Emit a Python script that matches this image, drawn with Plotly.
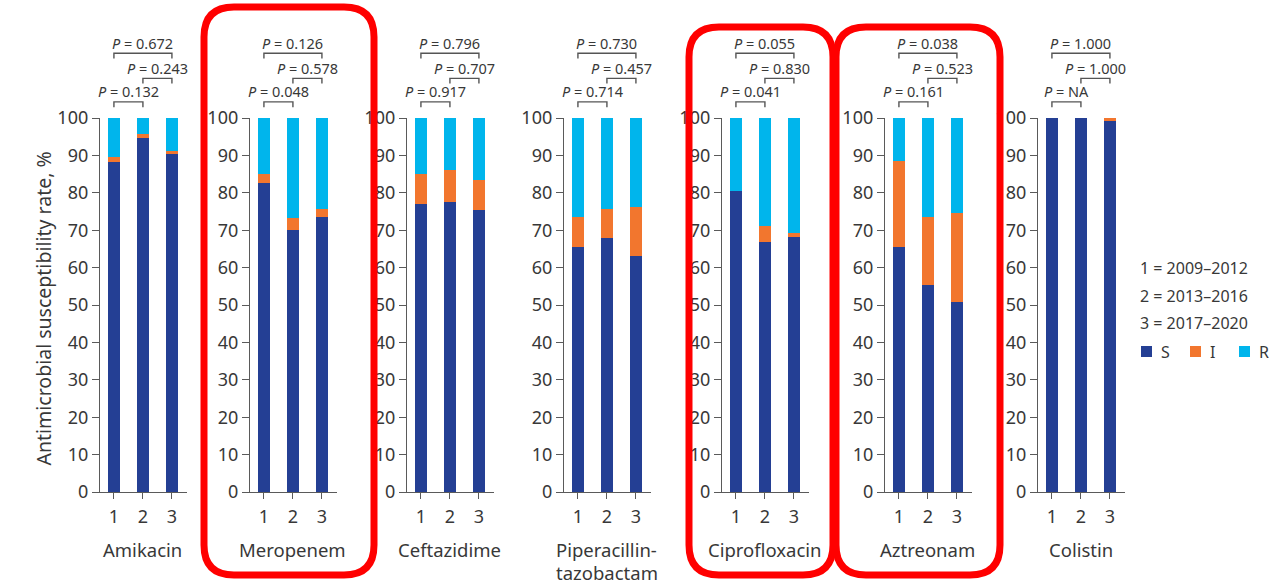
import plotly.graph_objects as go

W, H = 1281, 586

# ---- data -------------------------------------------------------------
drugs = ["Amikacin", "Meropenem", "Ceftazidime", "Piperacillin-\ntazobactam",
         "Ciprofloxacin", "Aztreonam", "Colistin"]
periods = [1, 2, 3]
period_key = ["1 = 2009–2012", "2 = 2013–2016", "3 = 2017–2020"]

# susceptibility rate (%) per drug, per period
susceptible = [
    [88.3, 94.6, 90.4],
    [82.7, 70.1, 73.6],
    [77.0, 77.6, 75.4],
    [65.4, 68.0, 63.2],
    [80.5, 66.9, 68.3],
    [65.4, 55.3, 50.8],
    [100.0, 100.0, 99.1],
]
intermediate = [
    [1.2, 1.1, 0.9],
    [2.3, 3.2, 2.0],
    [8.0, 8.6, 7.9],
    [8.1, 7.6, 13.1],
    [0.0, 4.3, 1.0],
    [23.1, 18.1, 23.8],
    [0.0, 0.0, 0.9],
]
resistant = [
    [10.5, 4.3, 8.7],
    [15.0, 26.7, 24.4],
    [15.0, 13.8, 16.7],
    [26.5, 24.4, 23.7],
    [19.5, 28.8, 30.7],
    [11.5, 26.6, 25.4],
    [0.0, 0.0, 0.0],
]

# P values for comparisons 1 vs 2, 2 vs 3, 1 vs 3
p_1_2 = ["0.132", "0.048", "0.917", "0.714", "0.041", "0.161", "NA"]
p_2_3 = ["0.243", "0.578", "0.707", "0.457", "0.830", "0.523", "1.000"]
p_1_3 = ["0.672", "0.126", "0.796", "0.730", "0.055", "0.038", "1.000"]

# ---- style / layout constants ---------------------------------------
C_S, C_I, C_R = "#243F94", "#F2762E", "#00B5EC"
TXT = "#383838"
AX = "#5a5a5a"
FONT = "Noto Sans"

panel_left_px = [100, 250, 407, 564, 722, 885, 1038]
panel_w_px = 87
plot_top_px, plot_bot_px = 118, 492
x_range = [0.52, 3.52]


def px(x):
    return x / W


def py(y):
    return 1 - y / H


fig = go.Figure()
shapes, annotations = [], []

for i, drug in enumerate(drugs):
    n = i + 1
    xa = "x" if n == 1 else f"x{n}"
    ya = "y" if n == 1 else f"y{n}"
    for name, vals, col in (("S", susceptible[i], C_S),
                            ("I", intermediate[i], C_I),
                            ("R", resistant[i], C_R)):
        fig.add_trace(go.Bar(x=periods, y=vals, name=name, marker_color=col,
                             marker_line_width=0, width=0.4, xaxis=xa, yaxis=ya,
                             showlegend=False))

    left = panel_left_px[i]
    fig.layout[f"xaxis{'' if n == 1 else n}"] = dict(
        domain=[px(left), px(left + panel_w_px)], range=x_range,
        anchor=ya, tickvals=periods, ticktext=[str(p) for p in periods],
        showline=True, linecolor=AX, linewidth=1.3, ticks="outside",
        ticklen=6, tickcolor=AX, tickwidth=1.3, ticklabelstandoff=2,
        showgrid=False, zeroline=False, automargin=False,
        tickfont=dict(family=FONT, size=18, color=TXT), fixedrange=True)
    fig.layout[f"yaxis{'' if n == 1 else n}"] = dict(
        domain=[py(plot_bot_px), py(plot_top_px)], range=[0, 100],
        anchor=xa, tickvals=list(range(0, 101, 10)),
        showline=True, linecolor=AX, linewidth=1.3, ticks="outside",
        ticklen=7, tickcolor=AX, tickwidth=1.3,
        showgrid=False, zeroline=False, automargin=False,
        tickfont=dict(family=FONT, size=18, color=TXT), fixedrange=True)

    # drug name under each panel (one annotation per line)
    for k, line in enumerate(drug.split("\n")):
        annotations.append(dict(xref=xa, yref="paper", x=2, y=py(549 + 23 * k),
                                text=line, showarrow=False, yanchor="middle",
                                font=dict(family=FONT, size=18.5, color=TXT)))

    # significance brackets (levels in fractions of plot height)
    ydom = f"{ya} domain"
    for (a, b, lvl, txt_lvl, p) in ((1, 2, 1.043, 1.072, p_1_2[i]),
                                    (2, 3, 1.106, 1.135, p_2_3[i]),
                                    (1, 3, 1.173, 1.200, p_1_3[i])):
        lo = lvl - 0.014
        shapes.append(dict(type="path", xref=xa, yref=ydom,
                           path=f"M{a},{lo} L{a},{lvl} L{b},{lvl} L{b},{lo}",
                           line=dict(color="#555555", width=1.4)))
        annotations.append(dict(xref=xa, yref=ydom, x=(a + b) / 2, y=txt_lvl,
                                text=f"<i>P</i> = {p}", showarrow=False,
                                yanchor="middle",
                                font=dict(family=FONT, size=14.5, color=TXT)))

# y-axis title
annotations.append(dict(xref="paper", yref="paper", x=px(27),
                        y=py((plot_top_px + plot_bot_px) / 2 + 4),
                        text="Antimicrobial susceptibility rate, %",
                        textangle=-90, showarrow=False,
                        font=dict(family=FONT, size=19.5, color=TXT)))

# period key and colour key on the right
for k, t in enumerate(period_key):
    annotations.append(dict(xref="paper", yref="paper", x=px(1138),
                            y=py(268 + 27.5 * k), xanchor="left",
                            yanchor="middle", text=t, showarrow=False,
                            font=dict(family=FONT, size=16, color=TXT)))
for sq_left, label, col in ((1141, "S", C_S), (1190, "I", C_I), (1239, "R", C_R)):
    shapes.append(dict(type="rect", xref="paper", yref="paper",
                       x0=px(sq_left), x1=px(sq_left + 11),
                       y0=py(357), y1=py(346), fillcolor=col, line_width=0))
    annotations.append(dict(xref="paper", yref="paper", x=px(sq_left + 18),
                            y=py(351.5), xanchor="left", yanchor="middle",
                            text=label, showarrow=False,
                            font=dict(family=FONT, size=16, color=TXT)))


# red rounded highlight frames
def rounded_box(x0, y0, x1, y1, r):
    X0, X1 = px(x0), px(x1)
    Y0, Y1 = py(y0), py(y1)
    rx, ry = r / W, r / H
    return (f"M{X0 + rx},{Y0} L{X1 - rx},{Y0} Q{X1},{Y0} {X1},{Y0 - ry} "
            f"L{X1},{Y1 + ry} Q{X1},{Y1} {X1 - rx},{Y1} "
            f"L{X0 + rx},{Y1} Q{X0},{Y1} {X0},{Y1 + ry} "
            f"L{X0},{Y0 - ry} Q{X0},{Y0} {X0 + rx},{Y0} Z")


for (bx0, by0, bx1, by1) in ((204, 7, 374, 575), (689, 27, 833, 575),
                             (836, 27, 1000, 575)):
    shapes.append(dict(type="path", xref="paper", yref="paper",
                       path=rounded_box(bx0, by0, bx1, by1, 30),
                       line=dict(color="#FF0000", width=7), layer="above"))

fig.update_layout(width=W, height=H,
                  margin=dict(l=0, r=0, t=0, b=0, autoexpand=False),
                  barmode="stack", bargap=0, plot_bgcolor="white",
                  paper_bgcolor="white", shapes=shapes, annotations=annotations,
                  showlegend=False)

fig.write_html("out.html", config={"displayModeBar": False})
